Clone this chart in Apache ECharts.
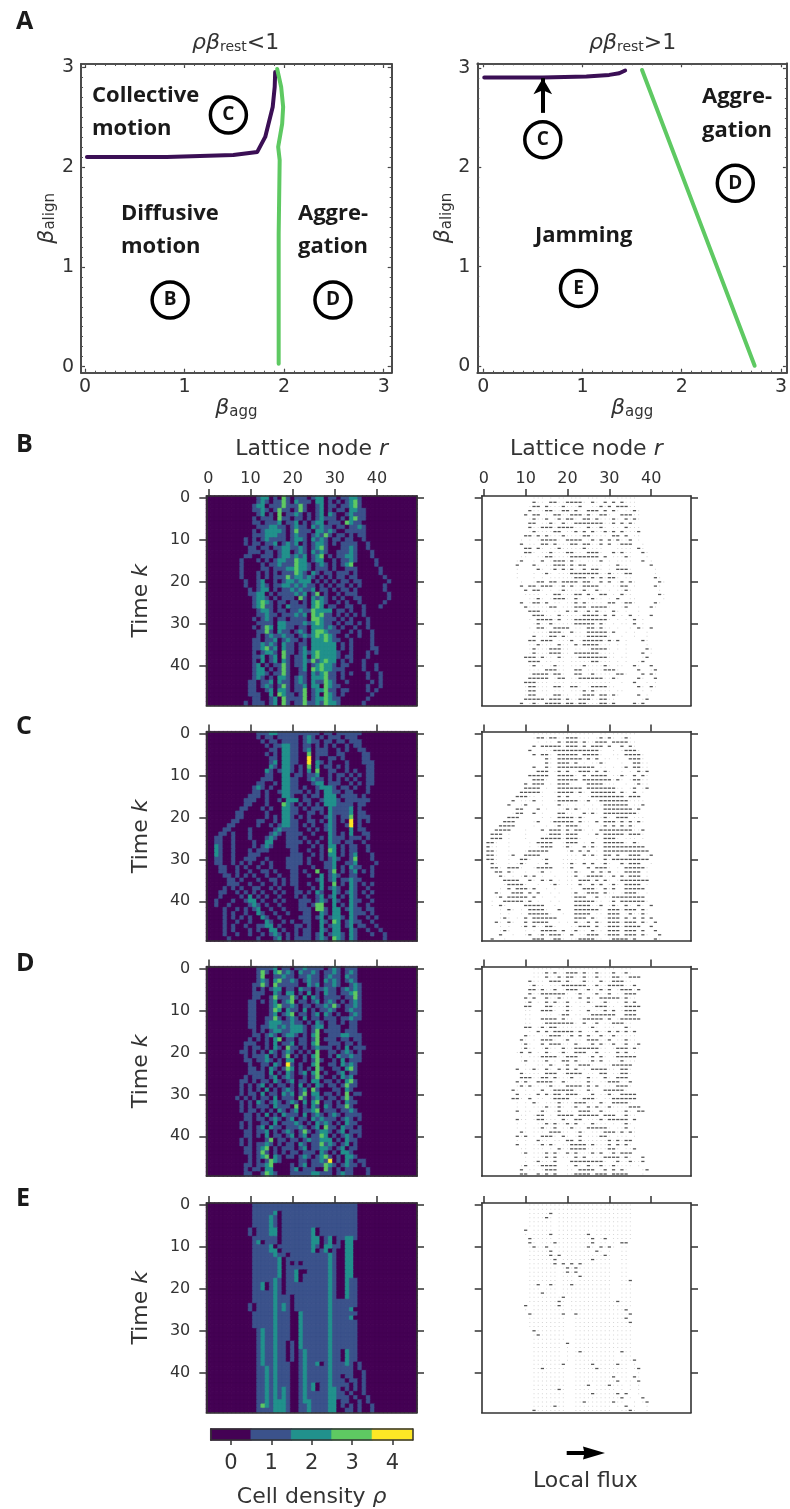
<!DOCTYPE html>
<html><head><meta charset="utf-8">
<style>html,body{margin:0;padding:0;background:#fff}#c{width:790px;height:1509px}</style>
<script src="https://cdn.jsdelivr.net/npm/echarts@6/dist/echarts.min.js"></script>
</head><body><div id="c"></div>
<script>
const viridis5 = ['#440154','#3b528b','#21918c','#5ec962','#fde725'];
const latticeNodes = Array.from({length:50},(_,i)=>String(i));
const densityTicks = ['0','1','2','3','4'];
const betaTicks = [0,1,2,3];
const betaMinorTicks = [0,.1,.2,.3,.4,.5,.6,.7,.8,.9,1,1.1,1.2,1.3,1.4,1.5,1.6,1.7,1.8,1.9,2,2.1,2.2,2.3,2.4,2.5,2.6,2.7,2.8,2.9,3];

const leftPurple = [[0.02,2.1],[0.82,2.1],[1.49,2.12],[1.73,2.15],[1.81,2.3],[1.885,2.6],[1.905,2.8],[1.91,2.95]];
const leftGreen = [[1.945,0.03],[1.945,1.33],[1.955,2.07],[1.94,2.2],[1.98,2.43],[1.99,2.6],[1.97,2.8],[1.93,2.98]];
const rightPurple = [[0.01,2.906],[0.6,2.906],[1.04,2.916],[1.27,2.933],[1.37,2.95],[1.43,2.977]];
const rightGreen = [[1.6,2.983],[2.15,1.537],[2.735,0]];
const leftCircles = [[1.44,2.52,'C'],[0.855,0.667,'B'],[2.49,0.667,'D']];
const rightCircles = [[0.6,2.28,'C'],[2.54,1.84,'D'],[0.96,0.78,'E']];
const rightArrow = [[0.6,2.55],[0.6,2.9]];

const densityB = [
"0000000000 0012201031 0111012201 1011221000 0000000000",
"0000000000 0012101131 0211102201 0101231000 0000000000",
"0000000000 0122011131 1131001201 1011231000 0000000000",
"0000000000 0112101311 0131001201 0110221100 0000000000",
"0000000000 0012010301 1210101202 1001211100 0000000000",
"0000000000 0101110311 0110101211 1010231100 0000000000",
"0000000000 0110111201 1201012201 1103211000 0000000000",
"0000000000 0011122110 1211021211 0110112100 0000000000",
"0000000000 0101222210 1311102212 1001111100 0000000000",
"0000000000 0111222110 1211012131 0110101100 0000000000",
"0000000001 0101211110 1221021210 1101100100 0000000000",
"0000000001 0110112012 1201012210 1011110010 0000000000",
"0000000000 1101101122 1121012310 0011210010 0000000000",
"0000000000 1110110122 0121021210 0111210001 0000000000",
"0000000001 1001110122 1212012301 0112210001 0000000000",
"0000000010 0010101221 1322012200 1011210000 1000000000",
"0000000010 0001011211 1322101210 1012300000 1000000000",
"0000000010 0001101112 2322101110 1001110000 0100000000",
"0000000010 0010101011 1321021011 0111010000 0100000000",
"0000000010 0010101113 1221210101 0110110000 0010000000",
"0000000001 0012001012 2122201010 1011011000 0001000000",
"0000000001 0012101122 1212110101 0110101000 0010000000",
"0000000000 1012201011 2121120110 1011010000 0010000000",
"0000000000 1122010111 1212013010 0101110000 0001000000",
"0000000000 0122101011 1031021210 1010011000 0001000000",
"0000000000 0123210110 1101023210 0101001000 0010000000",
"0000000000 0123110102 1111023201 1001100100 0100000000",
"0000000000 0012210110 1121132222 0110100100 0000000000",
"0000000000 0011211011 1212032311 0101010100 0000000000",
"0000000000 0101210110 1111033211 1010100010 0000000000",
"0000000000 0011110221 1112123211 0101101010 0000000000",
"0000000000 0101320221 1011022212 1010010010 0000000000",
"0000000000 0011310211 0121023321 1100101001 0000000000",
"0000000000 0010121121 1012123232 1001001001 0000000000",
"0000000000 0110112012 1101022232 1100100001 0000000000",
"0000000000 0112121021 1011022222 2010100001 0000000000",
"0000000000 0112312021 1012022222 2010100001 1000000000",
"0000000000 0101221031 1012123222 2100100010 1000000000",
"0000000000 0112012031 0112023222 2101100010 0000000000",
"0000000000 0102012021 0112131232 2010100100 0000000000",
"0000000000 0120101131 0112012322 1011000100 1000000000",
"0000000000 0122010131 0012032322 1110000100 1000000000",
"0000000000 0122101131 0011021231 1010100010 0100000000",
"0000000000 0121010221 0121022231 1010000010 0100000000",
"0000000000 1101120211 0121021132 1001000001 0100000000",
"0000000000 1101210131 0112022032 1100000010 0100000000",
"0000000000 1100120221 0113012231 1011000010 1000000000",
"0000000000 1110020321 1013012032 1010000001 0000000000",
"0000000000 0110012031 1113012232 1100000010 0000000000",
"0000000001 0111012031 0113112132 2100000100 0000000000"];

const densityC = [
"0000000000 0011122111 1111111011 0111111000 0000000000",
"0000000000 0010110111 1101210101 1101110000 0000000000",
"0000000000 0001011011 1101211011 0110111000 0000000000",
"0000000000 0000101122 1101101010 1001011000 0000000000",
"0000000000 0000011022 1101201110 0101001100 0000000000",
"0000000000 0000101022 1100301110 0110000110 0000000000",
"0000000000 0000011022 1100401001 1010000110 0000000000",
"0000000000 0000012022 1100402101 0001000111 0000000000",
"0000000000 0000021022 1010302011 0101000011 0000000000",
"0000000000 0000210122 1010203001 1001010011 0000000000",
"0000000000 0000110022 0110112001 0110101011 0000000000",
"0000000000 0001110022 1100121101 0101010011 0000000000",
"0000000000 0011001022 1100012201 1100101011 0000000000",
"0000000000 0121010022 1101001222 1011010010 0000000000",
"0000000000 0110100122 1110101022 1101100010 0000000000",
"0000000000 1110100022 1001011022 2011110100 0000000000",
"0000000001 1100100102 2201100122 2101111110 0000000000",
"0000000001 1000100032 1010101022 2111101100 0000000000",
"0000000011 0001010022 1101011102 1111201000 0000000000",
"0000000110 0000100022 1100110102 1111201100 0000000000",
"0000000110 0000101022 1010100012 1011301110 0000000000",
"0000001100 0011001022 1100110102 1010401010 0000000000",
"0000011000 0010010122 1101010012 1001401000 0000000000",
"0000110000 1000001211 1100101012 1000201100 0000000000",
"0001101000 1000012101 1110010002 1010200110 0000000000",
"0011001000 1000121001 1101000102 1110111010 0000000000",
"0011001000 0100220001 1110101002 1101100100 0000000000",
"0021001000 0101210001 1100010102 2010110010 0000000000",
"0021001000 1011100000 1100100103 2010110010 0000000000",
"0021001000 1110000000 1110010102 2010120001 0000000000",
"0011001001 1100100001 1110100101 2100130001 0000000000",
"0011001010 1001010001 1110100011 2001120000 1000000000",
"0001100101 0010010001 1100010011 2010211001 0000000000",
"0001100100 1001101000 1101003001 3010120101 0000000000",
"0000110101 0100100100 1100100201 2100110001 0000000000",
"0000011010 0010011010 1100001201 2011211000 0000000000",
"0000011100 1001001010 1100100200 3010210101 0000000000",
"0000101010 0110010100 0100010201 2100210010 0000000000",
"0001100101 0101001010 0110102100 2101210101 0000000000",
"0001000010 2010100100 0101001201 2010210010 0000000000",
"0010001001 2201001010 0011101210 2100211001 0000000000",
"0010010000 1210100100 0011013300 2010210010 0000000000",
"0000100101 0120010010 0011103310 2201211011 0000000000",
"0000101001 0021001001 0001100210 2200211101 0000000000",
"0000101010 1002100100 0011101201 2210210010 1000000000",
"0000100100 1000210010 1001100210 3201211001 0000000000",
"0000101001 0011220100 0110100201 2201201100 1000000000",
"0000101000 1010022010 0101100210 2200210010 0100000000",
"0000100100 1001012101 0101101201 2210210001 0010000000",
"0000010000 0010001201 0111101210 3210210000 0010000000"];

const densityD = [
"0000000000 0011112011 0112111101 2101110000 0000000000",
"0000000000 0013102312 1021121011 2101210000 0000000000",
"0000000000 0013001121 1011211012 1102110000 0000000000",
"0000000000 0012102311 2101211021 2101210000 0000000000",
"0000000000 0113103111 1100212011 2100121000 0000000000",
"0000000000 0101012201 1021101121 1012121000 0000000000",
"0000000000 0111002102 2010201021 1011231000 0000000000",
"0000000000 0110013111 3102021011 1101131000 0000000000",
"0000000000 1101012012 3011012012 1010121000 0000000000",
"0000000000 1100012311 2101101121 3101121000 0000000000",
"0000000000 1100013202 1102010112 1001211000 0000000000",
"0000000000 1100012012 3011012021 0100121000 0000000000",
"0000000000 1100113101 2102011011 1011211000 0000000000",
"0000000000 1100122211 2110102101 1010110000 0000000000",
"0000000000 1101122121 2221012201 1100110000 0000000000",
"0000000000 0101012211 2221013011 1101110000 0000000000",
"0000000000 0110121012 2101023001 1122111000 0000000000",
"0000000000 1010102301 1011013011 1011011000 0000000000",
"0000000001 1100102011 2011023001 1101101000 0000000000",
"0000000001 0110102103 1101012111 0102011100 0000000000",
"0000000011 0101021012 1010103001 1012101000 0000000000",
"0000000001 0111201013 0101023001 0211211000 0000000000",
"0000000001 1011210102 2001013100 1020111000 0000000000",
"0000000000 1001102104 1010023001 1021210000 0000000000",
"0000000000 1101021013 2010103100 1102310000 0000000000",
"0000000000 1111020102 1012023010 0120110000 0000000000",
"0000000001 0111012012 1001013100 1021200000 0000000000",
"0000000011 0101102101 2011022011 0102310000 0000000000",
"0000000010 1012010110 1020102101 1013110000 0000000000",
"0000000010 1010201012 1012031000 1102100000 0000000000",
"0000000010 1102011021 2013022011 0103011000 0000000000",
"0000000101 0101102011 1031012101 1013100000 0000000000",
"0000000010 1021012101 2102023011 0102110000 0000000000",
"0000000010 1011102111 0301021021 0113100000 0000000000",
"0000000010 1101010210 1201123011 1011210000 0000000000",
"0000000001 1010201021 1102012101 2101111000 0000000000",
"0000000001 1011012101 2011021211 1012101000 0000000000",
"0000000010 1001102011 1210102121 0102110000 0000000000",
"0000000010 1012021101 1121012031 1021101000 0000000000",
"0000000001 1011201012 1013101221 0120111000 0000000000",
"0000000001 1010201101 2012011320 1012101000 0000000000",
"0000000010 1000130110 1101211222 0102110000 0000000000",
"0000000010 1011210101 1021011312 1012010000 0000000000",
"0000000001 1012301011 1012011221 0120110000 0000000000",
"0000000001 1013101010 1101110210 1022100000 0000000000",
"0000000000 1012302101 1012101231 0102210000 0000000000",
"0000000000 1010132100 0011011214 0102101100 0000000000",
"0000000001 1011230000 1012011132 1012110100 0000000000",
"0000000001 0110220000 1201110031 0101100010 0000000000",
"0000000001 1001321000 1111122111 0121100010 0000000000"];

const densityE = [
"0000000000 0111111111 1111111111 1111110000 0000000000",
"0000000000 0111111111 1111111111 1111110000 0000000000",
"0000000000 0111112011 1111111111 1111110000 0000000000",
"0000000000 0111121011 1111111111 1111110000 0000000000",
"0000000000 0111121011 1111111111 1111110000 0000000000",
"0000000000 0111121011 1111111111 1111110000 0000000000",
"0000000000 1011122011 1111120111 1111110000 0000000000",
"0000000000 1011122011 1111120111 1111110000 0000000000",
"0000000000 0111111011 1111122012 0112210000 0000000000",
"0000000000 0120111011 1111122012 0102200000 0000000000",
"0000000000 0111120111 1111121022 1102200000 0000000000",
"0000000000 0111122011 1111120120 1002200000 0000000000",
"0000000000 0111112110 1111111112 1002200000 0000000000",
"0000000000 0111111201 1111111112 1002200000 0000000000",
"0000000000 0111111201 0101111112 1002200000 0000000000",
"0000000000 0111111201 1111111112 1002200000 0000000000",
"0000000000 0111111201 1200111112 1002200000 0000000000",
"0000000000 0111111201 1201111112 1002200000 0000000000",
"0000000000 0111112101 1201111112 1002110000 0000000000",
"0000000000 0112012101 1111111112 1002110000 0000000000",
"0000000000 0112012101 1111111112 1002110000 0000000000",
"0000000000 0111112101 1111111112 1002110000 0000000000",
"0000000000 0111112111 0111111112 1002110000 0000000000",
"0000000000 0111112111 0111111112 1111110000 0000000000",
"0000000000 1011112121 0111111112 1111110000 0000000000",
"0000000000 1011112121 0111111112 1111200000 0000000000",
"0000000000 0111112111 0021111112 1111110000 0000000000",
"0000000000 0111112111 0021111112 1111200000 0000000000",
"0000000000 0111112111 0021111112 1111110000 0000000000",
"0000000000 0111112111 0021111112 1111110000 0000000000",
"0000000000 0012112111 0021111112 1111110000 0000000000",
"0000000000 0012112111 0021111112 1111110000 0000000000",
"0000000000 0012112111 0021111112 1111110000 0000000000",
"0000000000 0012112110 1021111112 1111110000 0000000000",
"0000000000 0012112110 1021111112 1111110000 0000000000",
"0000000000 0012112110 1012111112 1102110000 0000000000",
"0000000000 0012112110 1012111112 1102110000 0000000000",
"0000000000 0012112110 1012111112 1102110000 0000000000",
"0000000000 0012112111 0012112012 1112101000 0000000000",
"0000000000 0011212111 0012111112 1111101000 0000000000",
"0000000000 0011212111 0012111112 1111100100 0000000000",
"0000000000 0011212111 0012111112 1101100100 0000000000",
"0000000000 0011212111 0012111112 1110110100 0000000000",
"0000000000 0011212111 0012120112 1111010100 0000000000",
"0000000000 0011212121 0012120112 2101010100 0000000000",
"0000000000 0011212121 0012111112 2110100100 0000000000",
"0000000000 0011212121 0012111112 2111010010 0000000000",
"0000000000 0011212221 0012211112 2011001010 0000000000",
"0000000000 0013212221 0011211112 2010101001 0000000000",
"0000000000 0011112221 0011211112 2001101001 0000000000"];

const fluxB = [[],[12,16,17,20,21,22,23,26,29,31,33],[12,13,15,19,23,28,30,32,33,34],[11,15,16,19,20,22,25,26,27,29,31,36],[10,12,13,17,18,21,22,23,25,28,29,33,34,35],[12,15,18,20,21,24,25,27,31,34,36],[11,12,16,19,22,23,24,25,26,27,28,31,33,35],[11,14,15,16,18,19,20,21,25,28,34],[12,17,18,22,24,26,29,31,33,37],[10,11,13,15,19,24,25,31,32,34],[14,15,16,17,20,21,22,23,26,28,30,32,35],[9,14,15,17,21,22,24,25,28,30,33,34,35],[10,11,13,18,24,37],[10,11,16,20,21,25,26,27,31,33,38],[15,16,21,22,23,24,25,26,27,29,34],[9,14,17,18,19,21,28,38],[8,12,17,18,19,21,23,24,32,40],[13,17,19,21,24,26,27,32,33,34],[15,21,22,23,24,25,26,27,30,34,35],[22,23,24,26,28,30,31,41],[13,14,16,17,19,20,21,22,24,25,28,30,33,35,42],[9,11,12,14,15,16,19,21,24,25,26,27,33,34,41],[10,12,13,19,24,27,34],[17,18,22,23,25,28,29,33,42],[13,17,18,19,22,26,32],[9,12,13,15,22,24,30,31,34,35,41],[10,16,17,22,23,24,26,27,28,29,34,40],[11,12,13,20,22,25,27,31],[12,13,14,18,24,25,26,27,29,31,35,40],[13,14,15,16,18,22,23,24,25,26,27,28,29,36],[13,16,22,23,24,25,26,28,36],[13,14,17,18,19,20,25,26,28,37,40],[16,17,18,21,25,26,27,28,29,31],[12,16,17,19,25,26,27,28,29],[11,12,14,15,16,21,24,25,26,27,28,30,32,38],[13,18,22,24,25,26,27],[12,16,17,18,26,27,28,29,39],[12,16,17,18,22,23,24,25,26,27,38],[10,11,12,14,18,23,24,25,26,27,28,29,39],[11,12,13,26,27,38],[12,17,24,29,36,40],[15,16,17,22,23,29,30,31,37,41],[12,13,14,15,17,18,22,23,26,32,33,38,40],[11,12,13,14,15,18,19,23,24,25,26,27,28,31,37,41],[10,11,12,36],[11,12,17,18,21,22,26,27,28,29,37,40],[11,12,24,26],[11,12,17,18,24,25,26,28,29,31,37],[10,11,12,13,14,16,17,18,20,23,24,25,28,29,39],[9,12,15,16,17,18,20,21,23,24,28,29,31,36,38]];

const fluxC = [[],[13,14,16,17,20,21,22,28,30,34],[18,20,21,22,24,27,28,29,31,32,33,34],[12,14,15,16,17,18,20,21,22,24,26,27,28,30,33,35],[11,17,18,19,20,21,22,23,24,25,26,27,34,35,36],[12,14,15,18,19,20,21,22,24,25,26,27,34,35,36,37],[15,18,19,20,21,22,23,25,27,35,36,37],[15,18,19,20,22,28,36,37],[12,15,18,19,20,21,22,23,24,25,26,34,36,37],[13,14,15,18,20,23,24,25,27,29,37,39],[11,12,13,14,15,18,19,20,21,24,26,27,28,29,33,36,38],[12,13,14,18,19,20,21,22,24,25,26,27,28,29,30,32,36,37],[10,12,13,14,18,19,20,25,26,27,28,37],[10,11,12,13,18,19,20,21,22,23,25,26,27,28,29,30,31,36,39],[9,10,11,12,13,18,19,20,21,23,26,27,28,29,30,31,33,36],[8,9,10,18,20,26,27,28,29,30,31,32,33,35,36,37],[7,12,18,19,20,21,22,25,28,29,30,31,32,33,34],[6,10,18,29,30,31,32,33,34,38],[8,9,13,20,22,29,30,31,32,33,34,35,37],[8,9,12,18,19,24,26,29,30,31,32,33,34,35,36],[6,7,8,18,19,20,21,23,29,32,33,34],[5,6,7,13,17,18,19,20,21,23,27,29,30,31,33,35,37],[4,5,6,7,18,20,21,22,29,31,33,35],[3,4,5,6,14,16,17,18,20,22,23,28,29,30,31,32,33,34,35,38],[2,3,4,16,17,18,20,21,22,27,29,30,31,32,33,35,36,37],[2,3,4,14,15,16,17,18,20,21,22,29,30,31],[1,2,13,14,15,16,20,21,22,26,29,30,31,32,33,36],[1,14,15,16,20,24,26,29,30,31,32,33,34,35,36,37,38],[1,2,11,12,13,14,15,21,23,25,29,30,31,32,33,34,35,36,37,38,39],[1,2,7,10,11,12,13,24,26,29,30,32,35,36,37,40],[1,2,9,10,15,29,31,32,33,34,35,36,37,38,39],[2,9,15,21,24,26,29,33,35,36,37],[2,3,6,7,8,13,14,15,16,21,25,27,28,29,34,35,36,37,38],[3,4,6,14,22,26,28,30,34,35,36,37],[4,10,12,22,25,26,27,28,31,33,35,36,37],[5,6,7,8,11,14,16,23,24,25,27,29,33,34,35,36,37,38,39],[6,7,8,9,17,23,26,28,31,34,35,36,37],[6,8,9,10,12,24,25,26,29,31,34,35,36,37,38],[3,7,8,9,11,13,22,25,26,27,29,34,35,36],[4,6,7,8,9,10,12,22,23,24,27,31,32,33,34,35,36,37,38],[5,6,7,8,9,11,22,23,24,25,26,31,33,34,35,36,37,38],[4,10,11,12,13,14,22,23,24,25,28,31,34,37,40],[6,11,12,13,14,18,22,23,24,25,26,27,30,31,32,34,35,36,38],[11,12,13,14,15,22,23,24,25,30,31,32,35,38],[5,10,12,13,14,15,16,17,22,23,24,26,30,31,32,34,36,38,40],[3,6,10,12,13,14,15,22,25,27,30,31,32,34,35,36,38,41],[10,12,15,16,23,24,25,27,30,31,32,34,35,36,37,40],[5,14,15,16,17,19,22,26,30,31,32,34,35,36,38,41],[4,11,14,16,17,18,21,25,26,27,30,31,32,34,35,36,38,42],[2,12,13,14,17,18,23,24,25,26,31,32,33,34,36,41]];

const fluxD = [[],[15,17,20,21,22,24,27,31,34],[15,18,20,21,24,27,31,32,35,36,37],[11,16,17,18,20,24,28,31,32,33],[12,19,20,21,22,23,24,27,30,31,32,33,36],[11,12,14,17,20,21,22,25,28,30,33,34,35,37],[11,14,15,16,17,18,19,23,27,30,34,35,36],[10,12,15,18,23,25,28,29,30,31,32,34],[11,15,17,20,25,29,34,36],[10,11,15,16,20,27,28,29,34,35,36,37],[14,15,16,20,25,29,31,34,35,36],[19,20,26,27,28,29,30,31,34,35,36],[14,15,16,17,19,24,25,26,27,28,30,33,34,35,36,37],[15,16,17,18,19,20,21,24,27,31,32,33],[10,11,14,16,17,26,34],[13,15,17,18,19,20,21,23,27,30,32,34,36],[10,16,17,18,21,23,25,28,31],[9,14,15,16,20,25,26,27,30,34],[10,14,16,17,18,22,26,28,31,34,37],[10,15,19,22,23,24,25,26,27,32,33,34,36],[9,11,15,19,22,23,24,27,32,34],[14,15,16,17,20,21,22,26,28,32,33,34,35,36],[10,15,19,20,22,26,28,33],[16,20,23,24,25,31,32,33,34,35],[8,12,15,18,20,22,26,27,28,29,33,34],[9,15,16,17,20,21,22,23,28,29,33,34],[9,10,11,14,15,17,21,25,29,32,33,34],[8,10,13,14,15,16,19,25,30,31,32,35],[9,11,16,20,21,22,23,25,27,32,33,34],[7,14,17,18,19,20,21,25,29,30,31,32,33],[8,13,15,17,18,20,21,22,26,30,33,34,35,36],[7,8,11,17,18,19,20,24,25,26,31,32,33,34,35,36],[12,18,22,23,24,28,31,32,33,34],[15,18,22,25,27,30,35,36,37],[8,14,18,23,24,25,28,34,37,38],[13,14,18,19,20,21,23,24,25,26,27,29,30,31,34],[8,13,14,19,22,23,28,30,31,32,33,34,36],[15,17,20,22,26,34],[14,17,21,25,26,27,28,29,34],[9,16,17,18,23,29,30,31,33,35],[8,10,14,15,16,19,23,28,29],[13,20,21,23,30,32,34,35],[8,14,16,21,22,23,24,26,30,32,34],[18,21,22,23,24,30,31,36],[10,15,17,20,22,26,28,31,33,34,35],[15,17,22,24,29,30,31,32,34,38],[13,17,21,22,23,24,25,26,27,28,32,35,38],[10,14,15,16,17,22,25,28,31],[9,15,16,17,23,24,25,26,29,31,33,39],[9,10,13,15,17,22,23,24,25,27,28,29,31,32,33,34]];

const fluxE = [[],[],[16],[15],[],[],[10],[16,25],[11,26,29],[11,17,26,33,34],[12,15,25,28,30],[16,27],[16,18,29],[17,26],[17,19,21,23],[20,22],[20,22],[23],[35],[13,16,21],[],[14],[19],[18,32],[10,18],[34],[11,19,22,35],[34],[35],[],[12],[13],[],[20],[],[23,33],[],[36],[19,26,32],[14,27,37],[],[31,36],[32,37],[25,30],[18],[26,32,34],[33,38],[24,31,39],[17,34],[12,35]];

const rowTops = [496,731.6,966.6,1203];
const densityPanels = [densityB,densityC,densityD,densityE];
const fluxPanels = [fluxB,fluxC,fluxD,fluxE];
const INK = '#333';
const FONT = 'DejaVu Sans';
const BOLD = 'Open Sans';

const grids=[], xAxes=[], yAxes=[], series=[];

function phasePanel(box, xr, yr, curves, circles, arrow){
  const g = grids.length;
  grids.push({left:box[0],top:box[1],width:box[2],height:box[3],show:false});
  const xi = xAxes.length, yi = yAxes.length;
  const line = {show:true,onZero:false,lineStyle:{color:'#444',width:1.6}};
  const mk = (o)=>Object.assign({type:'value',gridIndex:g,scale:false,splitLine:{show:false},axisLine:line,axisLabel:{show:false},z:5},o);
  [['bottom',true],['top',false]].forEach(([p,lab])=>{
    xAxes.push(mk({position:p,min:xr[0],max:xr[1],
      axisTick:{show:true,inside:true,length:4,customValues:betaTicks,lineStyle:{color:'#444',width:1.2}},
      axisLabel:lab?{show:true,customValues:betaTicks,color:INK,fontFamily:FONT,fontSize:19,margin:5,formatter:v=>String(v)}:{show:false},
      name:lab?'{b|β}{s|agg}':'',nameLocation:'middle',nameGap:17,
      nameTextStyle:{rich:{b:{fontFamily:FONT,fontStyle:'italic',fontSize:22,color:INK},s:{fontFamily:FONT,fontSize:15,color:INK,verticalAlign:'bottom',padding:[0,0,0,0]}}}}));
    xAxes.push(mk({position:p,min:xr[0],max:xr[1],
      axisTick:{show:true,inside:true,length:2,customValues:betaMinorTicks,lineStyle:{color:'#555',width:1}}}));
  });
  [['left',true],['right',false]].forEach(([p,lab])=>{
    yAxes.push(mk({position:p,min:yr[0],max:yr[1],
      axisTick:{show:true,inside:true,length:4,customValues:betaTicks,lineStyle:{color:'#444',width:1.2}},
      axisLabel:lab?{show:true,customValues:betaTicks,color:INK,fontFamily:FONT,fontSize:19,margin:7,formatter:v=>String(v)}:{show:false},
      name:lab?'{b|β}{s|align}':'',nameLocation:'middle',nameGap:23,nameRotate:90,
      nameTextStyle:{rich:{b:{fontFamily:FONT,fontStyle:'italic',fontSize:22,color:INK},s:{fontFamily:FONT,fontSize:15,color:INK,verticalAlign:'bottom'}}}}));
    yAxes.push(mk({position:p,min:yr[0],max:yr[1],
      axisTick:{show:true,inside:true,length:2,customValues:betaMinorTicks,lineStyle:{color:'#555',width:1}}}));
  });
  curves.forEach(([data,color])=>series.push({type:'line',xAxisIndex:xi,yAxisIndex:yi,data,symbol:'none',smooth:false,clip:false,
    lineStyle:{color,width:4,cap:'round',join:'round'},z:3}));
  series.push({type:'scatter',xAxisIndex:xi,yAxisIndex:yi,symbol:'circle',symbolSize:36,data:circles.map(c=>({value:[c[0],c[1]],label:{formatter:c[2]}})),
    itemStyle:{color:'rgba(255,255,255,0)',borderColor:'#000',borderWidth:3.5,opacity:1},z:4,
    label:{show:true,position:'inside',color:'#111',fontFamily:BOLD,fontWeight:'bold',fontSize:19},
    markLine:arrow?{silent:true,symbol:['none','arrow'],symbolSize:[14,16],precision:3,animation:false,label:{show:false},
      lineStyle:{color:'#000',width:4,type:'solid',opacity:1},data:[[{coord:arrow[0]},{coord:arrow[1]}]]}:undefined});
}

function latticePanel(left, top, labelled, side){
  const g = grids.length;
  grids.push({left,top,width:side[0],height:side[1],show:false});
  const xi = xAxes.length, yi = yAxes.length;
  const line={show:true,onZero:false,lineStyle:{color:INK,width:1.6}};
  const tick={show:true,alignWithLabel:true,interval:9,length:7,lineStyle:{color:INK,width:1.5}};
  const base={type:'category',gridIndex:g,data:latticeNodes,boundaryGap:true,splitLine:{show:false},axisLine:line,z:6};
  xAxes.push(Object.assign({},base,{position:'top',axisTick:tick,
    axisLabel:labelled.x?{show:true,interval:9,color:INK,fontFamily:FONT,fontSize:16,margin:9}:{show:false},
    name:labelled.x?'Lattice node {i|r}':'',nameLocation:'middle',nameGap:36,
    nameTextStyle:{color:INK,fontFamily:FONT,fontSize:22,rich:{i:{fontStyle:'italic',fontFamily:FONT,fontSize:22,color:INK}}}}));
  xAxes.push(Object.assign({},base,{position:'bottom',axisTick:{show:false},axisLabel:{show:false}}));
  yAxes.push(Object.assign({},base,{position:'left',inverse:true,axisTick:tick,
    axisLabel:labelled.y?{show:true,interval:9,color:INK,fontFamily:FONT,fontSize:16,margin:16}:{show:false},
    name:labelled.y?'Time {i|k}':'',nameLocation:'middle',nameGap:54,nameRotate:90,
    nameTextStyle:{color:INK,fontFamily:FONT,fontSize:22,rich:{i:{fontStyle:'italic',fontFamily:FONT,fontSize:22,color:INK}}}}));
  yAxes.push(Object.assign({},base,{position:'right',inverse:true,axisTick:tick,axisLabel:{show:false}}));
  return [xi,yi];
}

phasePanel([81,64,310.7,308.7],[-0.04,3.08],[-0.06,3.03],[[leftPurple,'#3b0f55'],[leftGreen,'#5ec962']],leftCircles,null);
phasePanel([477.3,63.3,311,309.4],[-0.06,3.06],[-0.07,3.05],[[rightPurple,'#3b0f55'],[rightGreen,'#5ec962']],rightCircles,rightArrow);

const cellStyle = v=>({color:viridis5[v],borderColor:viridis5[v],borderWidth:0.6,opacity:1});

densityPanels.forEach((rows,p)=>{
  const cells = rows.map(s=>s.replace(/ /g,''));
  let [xi,yi] = latticePanel(206.3,rowTops[p],{x:p===0,y:true},[210.7,209.5]);
  const data=[];
  cells.forEach((s,r)=>{for(let c=0;c<50;c++){const v=+(s[c]||0);data.push({value:[c,r,v],itemStyle:cellStyle(v)});}});
  series.push({type:'heatmap',xAxisIndex:xi,yAxisIndex:yi,data,progressive:0,animation:false,z:2});

  [xi,yi] = latticePanel(481.7,rowTops[p],{x:p===0,y:false},[209.3,209.5]);
  const arrows=[], dots=[];
  fluxPanels[p].forEach((cols,r)=>cols.forEach(c=>arrows.push([c,r])));
  cells.forEach((s,r)=>{for(let c=0;c<50;c++){if(+(s[c]||0)>0 && !fluxPanels[p][r].includes(c))dots.push([c,r]);}});
  series.push({type:'scatter',xAxisIndex:xi,yAxisIndex:yi,data:dots,symbol:'rect',symbolSize:1,progressive:0,animation:false,
    itemStyle:{color:'#d4d4d4',opacity:1},z:2});
  series.push({type:'scatter',xAxisIndex:xi,yAxisIndex:yi,data:arrows,symbol:'rect',symbolSize:[3.2,1.3],progressive:0,animation:false,
    itemStyle:{color:'#555',opacity:1},z:3});
});

// colour bar
{
  const g=grids.length;
  grids.push({left:210.7,top:1429,width:202,height:16.7,show:false});
  const xi=xAxes.length, yi=yAxes.length;
  const line={show:true,onZero:false,lineStyle:{color:INK,width:1.5}};
  xAxes.push({type:'category',gridIndex:g,data:densityTicks,position:'bottom',axisLine:line,z:6,
    axisTick:{show:true,alignWithLabel:true,length:5,lineStyle:{color:INK,width:1.5}},
    axisLabel:{color:INK,fontFamily:FONT,fontSize:21,margin:13},
    name:'Cell density {i|ρ}',nameLocation:'middle',nameGap:46,
    nameTextStyle:{color:INK,fontFamily:FONT,fontSize:22,rich:{i:{fontStyle:'italic',fontFamily:FONT,fontSize:22,color:INK}}}});
  xAxes.push({type:'category',gridIndex:g,data:densityTicks,position:'top',axisLine:line,axisTick:{show:false},axisLabel:{show:false},z:6});
  yAxes.push({type:'category',gridIndex:g,data:['rho'],position:'left',axisLine:line,axisTick:{show:false},axisLabel:{show:false},z:6});
  yAxes.push({type:'category',gridIndex:g,data:['rho'],position:'right',axisLine:line,axisTick:{show:false},axisLabel:{show:false},z:6});
  series.push({type:'heatmap',xAxisIndex:xi,yAxisIndex:yi,animation:false,z:2,
    data:densityTicks.map((t,i)=>({value:[i,0,i],itemStyle:cellStyle(i)}))});
}

const boldText=(x,y,t,size)=>({type:'text',left:x,top:y,z:20,silent:true,style:{text:t,fontFamily:BOLD,fontWeight:'bold',fontSize:size||22,fill:'#1a1a1a',verticalAlign:'middle'}});
const titleRich={r:{fontFamily:FONT,fontStyle:'italic',fontSize:22,fill:INK,color:INK},s:{fontFamily:FONT,fontSize:14,fill:INK,color:INK,verticalAlign:'bottom'},n:{fontFamily:FONT,fontSize:22,fill:INK,color:INK}};
const graphic=[
  boldText(16,9,'A',25),boldText(16,432,'B',25),boldText(16,714,'C',25),boldText(16,951,'D',25),boldText(16,1186,'E',25),
  boldText(92,85,'Collective'),boldText(92,118,'motion'),
  boldText(121,203,'Diffusive'),boldText(121,236,'motion'),
  boldText(298,203,'Aggre-'),boldText(298,236,'gation'),
  boldText(702,86,'Aggre-'),boldText(702,120,'gation'),
  boldText(535,225,'Jamming'),
  {type:'text',left:192,top:32,z:20,silent:true,style:{rich:titleRich,text:'{r|ρβ}{s|rest}{n|<1}',fontFamily:FONT,fontSize:22}},
  {type:'text',left:589,top:32,z:20,silent:true,style:{rich:titleRich,text:'{r|ρβ}{s|rest}{n|>1}',fontFamily:FONT,fontSize:22}},
  {type:'text',left:533,top:1470,z:20,silent:true,style:{text:'Local flux',fontFamily:FONT,fontSize:22,fill:INK}},
  {type:'polygon',z:20,silent:true,shape:{points:[[566.7,1451],[584,1451],[583,1446.5],[605,1453],[583,1459.5],[584,1455],[566.7,1455]]},style:{fill:'#000'}}
];

const chart=echarts.init(document.getElementById('c'),null,{renderer:'canvas',width:790,height:1509});
chart.setOption({animation:false,backgroundColor:'#fff',tooltip:{show:false},grid:grids,xAxis:xAxes,yAxis:yAxes,series,graphic});
</script></body></html>
